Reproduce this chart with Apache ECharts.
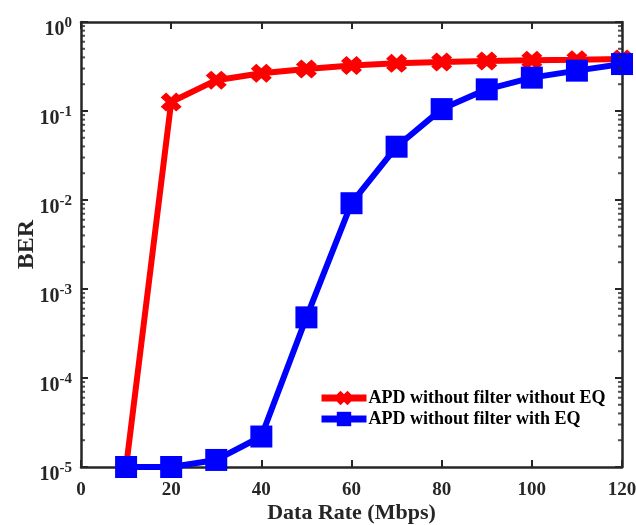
<!DOCTYPE html>
<html>
<head>
<meta charset="utf-8">
<script src="https://cdn.jsdelivr.net/npm/echarts@6/dist/echarts.min.js"></script>
<style>
html,body{margin:0;padding:0;background:#fff;}
#chart{width:636px;height:525px;}
</style>
</head>
<body>
<div id="chart"></div>
<script>
const dataRates = [10, 20, 30, 40, 50, 60, 70, 80, 90, 100, 110, 120];
const berNoEQ = [1e-5, 0.126, 0.222, 0.266, 0.296, 0.325, 0.343, 0.355, 0.365, 0.372, 0.376, 0.385];
const berWithEQ = [1e-5, 1e-5, 1.2e-5, 2.2e-5, 4.8e-4, 9.2e-3, 0.0397, 0.105, 0.175, 0.237, 0.284, 0.337];
const seriesNames = ['APD without filter without EQ', 'APD without filter with EQ'];
const xTickLabels = ['0', '20', '40', '60', '80', '100', '120'];
const minorMultipliers = [2, 3, 4, 5, 6, 7, 8, 9];
const decades = [-5, -4, -3, -2, -1];

const FONT = 'Liberation Serif, "Times New Roman", serif';
const AX = '#262626';
const crossPath = 'path://M0,2.6 L2.6,0 L5,2.4 L7.4,0 L10,2.6 L7.6,5 L10,7.4 L7.4,10 L5,7.6 L2.6,10 L0,7.4 L2.4,5 Z';

const minorVals = [];
decades.forEach(d => minorMultipliers.forEach(m => minorVals.push(m * Math.pow(10, d))));

const chart = echarts.init(document.getElementById('chart'), null, {renderer: 'canvas'});

const yLabelFmt = v => {
  const e = Math.round(Math.log10(v));
  return '{b|10}{s|' + e + '}';
};

const tickSeries = (xVal, offset) => ({
  type: 'scatter',
  silent: true,
  clip: false,
  data: minorVals.map(v => [xVal, v]),
  symbol: 'rect',
  symbolSize: [4, 2],
  symbolOffset: [offset, 0],
  itemStyle: {color: AX},
  z: 5,
  tooltip: {show: false}
});

const majorTick = {show: true, inside: true, length: 7, lineStyle: {color: AX, width: 2}};
const axisLineStyle = {show: true, onZero: false, lineStyle: {color: AX, width: 2.5}};

const option = {
  backgroundColor: '#fff',
  animation: false,
  grid: {left: 81, top: 22, right: 14, bottom: 58, containLabel: false, outerBoundsMode: 'none'},
  legend: {
    orient: 'vertical',
    left: 318,
    top: 388,
    itemWidth: 45,
    itemHeight: 18,
    itemGap: 3,
    data: seriesNames,
    backgroundColor: '#fff',
    padding: [1, 4, 1, 0],
    lineStyle: {width: 7},
    textStyle: {fontFamily: FONT, fontWeight: 'bold', fontSize: 18, color: '#000', padding: [0, 0, 0, -3]}
  },
  xAxis: [{
    type: 'value', min: 0, max: 120, interval: 20, position: 'bottom',
    name: 'Data Rate (Mbps)', nameLocation: 'middle', nameGap: 35, nameMoveOverlap: false,
    nameTextStyle: {fontFamily: FONT, fontWeight: 'bold', fontSize: 22, color: AX},
    axisLine: axisLineStyle,
    axisTick: majorTick,
    axisLabel: {fontFamily: FONT, fontWeight: 'bold', fontSize: 19, color: AX, margin: 14,
      formatter: (v) => xTickLabels[xTickLabels.indexOf(String(v))] || String(v)},
    splitLine: {show: false}
  }, {
    type: 'value', min: 0, max: 120, interval: 20, position: 'top',
    axisLine: axisLineStyle,
    axisTick: majorTick,
    axisLabel: {show: false},
    splitLine: {show: false}
  }],
  yAxis: [{
    type: 'log', logBase: 10, min: 1e-5, max: 1, position: 'left',
    name: 'BER', nameLocation: 'middle', nameGap: 42, nameRotate: 90, nameMoveOverlap: false,
    nameTextStyle: {fontFamily: FONT, fontWeight: 'bold', fontSize: 24, color: AX},
    axisLine: axisLineStyle,
    axisTick: majorTick,
    axisLabel: {
      margin: 9,
      padding: [11, 0, 0, 0],
      formatter: yLabelFmt,
      rich: {
        b: {fontFamily: FONT, fontWeight: 'bold', fontSize: 20, color: AX, lineHeight: 24, verticalAlign: 'bottom'},
        s: {fontFamily: FONT, fontWeight: 'bold', fontSize: 15, color: AX, lineHeight: 15, verticalAlign: 'top'}
      }
    },
    splitLine: {show: false}
  }, {
    type: 'log', logBase: 10, min: 1e-5, max: 1, position: 'right',
    axisLine: axisLineStyle,
    axisTick: majorTick,
    axisLabel: {show: false},
    splitLine: {show: false}
  }],
  series: [{
    name: seriesNames[0],
    type: 'line',
    data: dataRates.map((x, i) => [x, berNoEQ[i]]),
    lineStyle: {color: '#ff0000', width: 6},
    itemStyle: {color: '#ff0000'},
    symbol: crossPath,
    symbolSize: [21, 19],
    showAllSymbol: true,
    z: 3
  }, {
    name: seriesNames[1],
    type: 'line',
    data: dataRates.map((x, i) => [x, berWithEQ[i]]),
    lineStyle: {color: '#0000ff', width: 6},
    itemStyle: {color: '#0000ff'},
    symbol: 'rect',
    symbolSize: 22,
    showAllSymbol: true,
    z: 4
  },
  tickSeries(0, 2),
  tickSeries(120, -2)
  ]
};
chart.setOption(option);
</script>
</body>
</html>
